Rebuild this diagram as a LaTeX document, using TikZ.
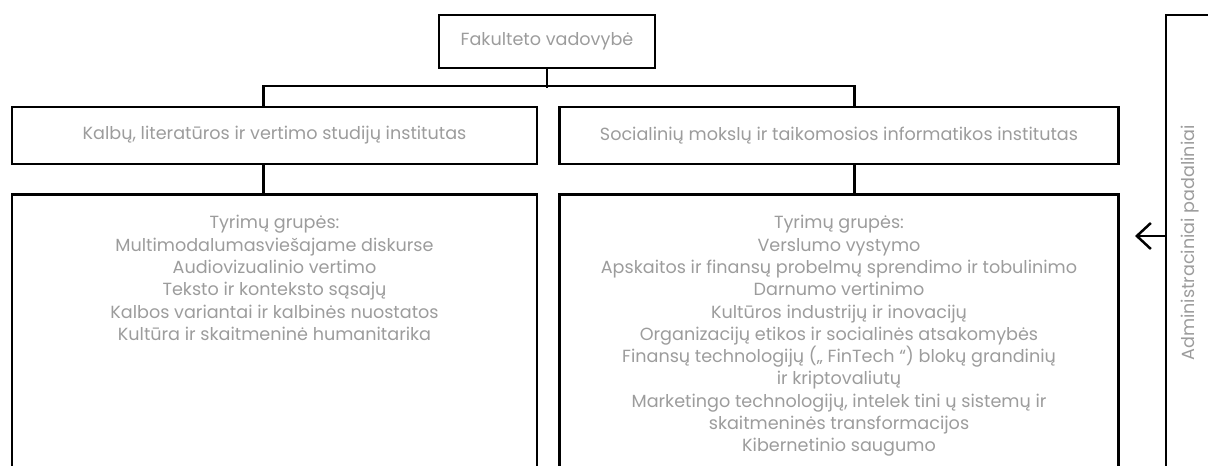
\documentclass[tikz,border=0pt]{standalone}
\usepackage{fontspec}
\setmainfont{Poppins}
\usepackage{xcolor}
\usetikzlibrary{positioning,arrows.meta}
\definecolor{txtgray}{HTML}{9C9C9C}

\begin{document}
\begin{tikzpicture}[x=1pt, y=-1pt, line width=2.5pt,
		font=\fontsize{17.6}{22.3}\selectfont,
		unit/.style={rectangle, draw, text=txtgray, inner sep=0pt},
		grp/.style={unit, inner ysep=21pt}]
				\useasboundingbox (0,0) rectangle (1208,466);
				\clip (0,0) rectangle (1208,466);
				\node[unit, minimum width=216pt, minimum height=53pt] (dean) at (547,41.5) {Fakulteto vadovybė};
				\node[unit, minimum width=525pt, minimum height=57pt] (linst) at (274.5,135.5) {Kalbų, literatūros ir vertimo studijų institutas};
				\node[unit, minimum width=559pt, minimum height=57pt, right=20pt of linst] (rinst) {Socialinių mokslų ir taikomosios informatikos institutas};
				
				\node[grp, below=28pt of linst] (lgrp) {\begin{minipage}[t][300pt][t]{525pt}\centering
					Tyrimų grupės:\\
					Multimodalumasviešajame diskurse\\
					Audiovizualinio vertimo\\
					Teksto ir konteksto sąsajų\\
					Kalbos variantai ir kalbinės nuostatos\\
					Kultūra ir skaitmeninė humanitarika
				\end{minipage}};
				\node[grp, below=28pt of rinst] (rgrp) {\begin{minipage}[t][300pt][t]{559pt}\centering
					Tyrimų grupės:\\
					Verslumo vystymo\\
					Apskaitos ir finansų probelmų sprendimo ir tobulinimo\\
					Darnumo vertinimo\\
					Kultūros industrijų ir inovacijų\\
					Organizacijų etikos ir socialinės atsakomybės\\
					Finansų technologijų („ FinTech “) blokų grandinių\\
					ir kriptovaliutų\\
					Marketingo technologijų, intelek tini ų sistemų ir\\
					skaitmeninės transformacijos\\
					Kibernetinio saugumo
				\end{minipage}};
				
				\node[unit, rotate=90, minimum width=456pt, minimum height=48pt] (admin) at (1190,243) {Administraciniai padaliniai};
				\coordinate (admtip) at (1135,236);
				
				\draw (dean.south) -- ++(0,19);
				\draw ([xshift=-11pt]linst.north) -- ++(0,-20) -| ([xshift=15.5pt]rinst.north);
				\draw ([xshift=-11pt]linst.south) -- ([xshift=-11pt]lgrp.north);
				\draw ([xshift=15.5pt]rinst.south) -- ([xshift=15.5pt]rgrp.north);
				\draw[-{Straight Barb[length=14pt, width=26pt]}] ([yshift=7pt]admin.north) -- (admtip);
			\end{tikzpicture}
\end{document}
